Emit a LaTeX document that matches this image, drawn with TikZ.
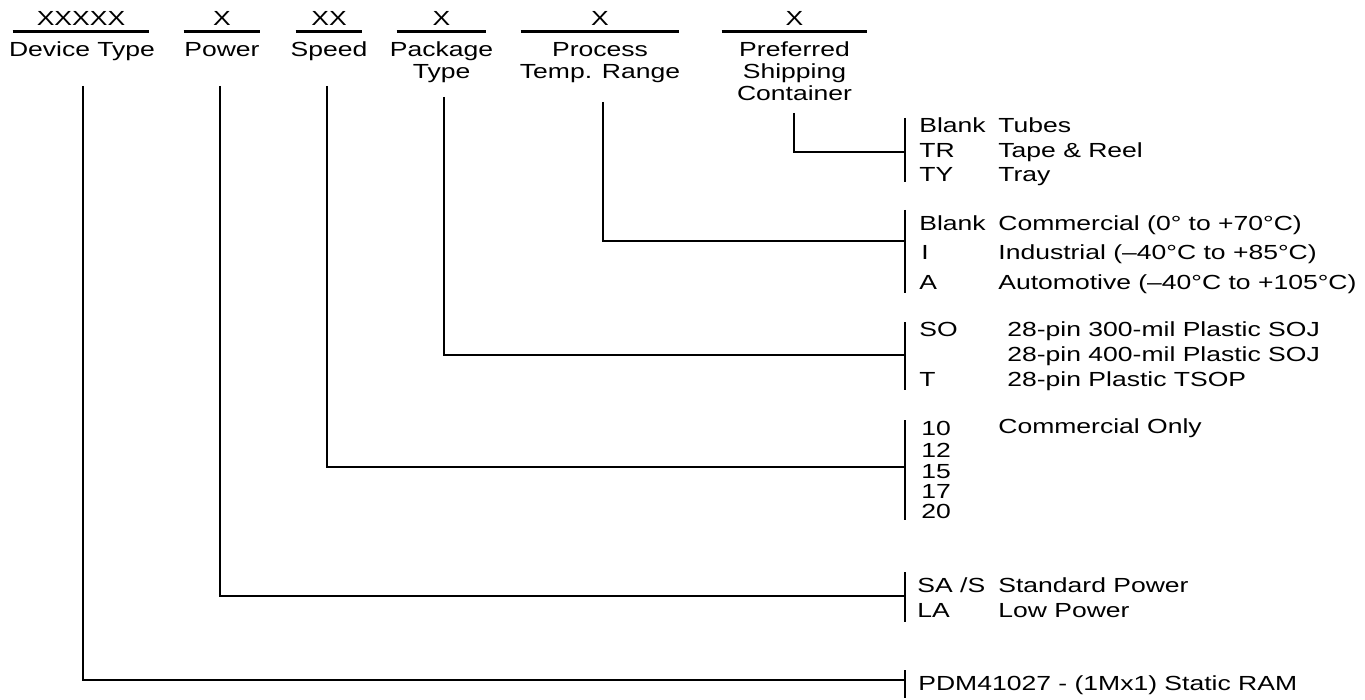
\documentclass[tikz,border=0pt]{standalone}
\usepackage{fontspec}
\setmainfont{Liberation Sans}[FakeStretch=1.3]
\begin{document}
\begin{tikzpicture}[x=0.5pt,y=-0.5pt,
    every node/.style={inner sep=0pt,font=\fontsize{10.2}{12}\selectfont},
    code/.style={anchor=base},
    row/.style={anchor=base west},
    bar/.style={line width=1.5pt},
    conn/.style={line width=1pt}]
  \useasboundingbox (0,0) rectangle (1365,700);
  % code fields and their bars
  \node[code,minimum width=68pt] (xdev) at (81,26) {XXXXX};
  \node[code,minimum width=38pt] (xpwr) at (222,26) {X};
  \node[code,minimum width=33pt] (xspd) at (329,26) {XX};
  \node[code,minimum width=44.5pt] (xpkg) at (441.5,26) {X};
  \node[code,minimum width=79pt] (xtmp) at (600,26) {X};
  \node[code,minimum width=72.5pt] (xshp) at (794.5,26) {X};
  \foreach \n in {xdev,xpwr,xspd,xpkg,xtmp,xshp}
    \draw[bar] ([yshift=-3pt]\n.base west) -- ([yshift=-3pt]\n.base east);
  % field names
  \node[code] (ldev) at (82,57) {Device Type};
  \node[code] (lpwr) at (222,57) {Power};
  \node[code] (lspd) at (329,57) {Speed};
  \node[code] (lpkg) at (441.5,57) {Package};
  \node[code] (lpkgb) at (441.5,79) {Type};
  \node[code] (ltmp) at (600,57) {Process};
  \node[code] (ltmpb) at (600,79) {Temp. Range};
  \node[code] (lshp) at (794.5,57) {Preferred};
  \node[code] (lshpb) at (794.5,79) {Shipping};
  \node[code] (lshpc) at (794.5,101) {Container};
  % leader tops and joins on the brackets
  \coordinate (tdev) at (83,86);
  \coordinate (tpwr) at (220,86);
  \coordinate (tspd) at (327,86);
  \coordinate (tpkg) at (444,97);
  \coordinate (ttmp) at (603,102);
  \coordinate (tshp) at (794,113);
  \coordinate (jshp) at (905,152);
  \coordinate (jtmp) at (905,241);
  \coordinate (jpkg) at (905,355);
  \coordinate (jspd) at (905,467);
  \coordinate (jpwr) at (905,596);
  \coordinate (jdev) at (905,680);
  \draw[conn] (tshp) |- (jshp);
  \draw[conn] (ttmp) |- (jtmp);
  \draw[conn] (tpkg) |- (jpkg);
  \draw[conn] (tspd) |- (jspd);
  \draw[conn] (tpwr) |- (jpwr);
  \draw[conn] (tdev) |- (jdev);
  % brackets
  \draw[conn] (905,118) -- (905,182);
  \draw[conn] (905,210) -- (905,293);
  \draw[conn] (905,322) -- (905,390);
  \draw[conn] (905,420) -- (905,520);
  \draw[conn] (905,572) -- (905,622);
  \draw[conn] (905,670) -- (905,698);
  % shipping container
  \node[row] (shp1) at (919,133) {Blank};
  \node[row] (shp1d) at (998,133) {Tubes};
  \node[row] (shp2) at (919,158) {TR};
  \node[row] (shp2d) at (998,158) {Tape \& Reel};
  \node[row] (shp3) at (919,182) {TY};
  \node[row] (shp3d) at (998,182) {Tray};
  % temperature range
  \node[row] (tmp1) at (919,231) {Blank};
  \node[row] (tmp1d) at (998,231) {Commercial (0° to +70°C)};
  \node[row] (tmp2) at (921,260) {I};
  \node[row] (tmp2d) at (998,260) {Industrial (–40°C to +85°C)};
  \node[row] (tmp3) at (919,290) {A};
  \node[row] (tmp3d) at (998,290) {Automotive (–40°C to +105°C)};
  % package
  \node[row] (pkg1) at (919,336) {SO};
  \node[row] (pkg1d) at (1007,336) {28-pin 300-mil Plastic SOJ};
  \node[row] (pkg2d) at (1007,361) {28-pin 400-mil Plastic SOJ};
  \node[row] (pkg3) at (919,386) {T};
  \node[row] (pkg3d) at (1007,386) {28-pin Plastic TSOP};
  % speed
  \node[row] (spd1) at (921,435) {10};
  \node[row] (spd1d) at (998,433) {Commercial Only};
  \node[row] (spd2) at (921,457) {12};
  \node[row] (spd3) at (921,478) {15};
  \node[row] (spd4) at (921,498) {17};
  \node[row] (spd5) at (921,518) {20};
  % power
  \node[row] (pwr1) at (917,592) {SA /S};
  \node[row] (pwr1d) at (998,592) {Standard Power};
  \node[row] (pwr2) at (917,617) {LA};
  \node[row] (pwr2d) at (998,617) {Low Power};
  % device
  \node[row] (dev1) at (918,690) {PDM41027 - (1Mx1) Static RAM};
\end{tikzpicture}
\end{document}
